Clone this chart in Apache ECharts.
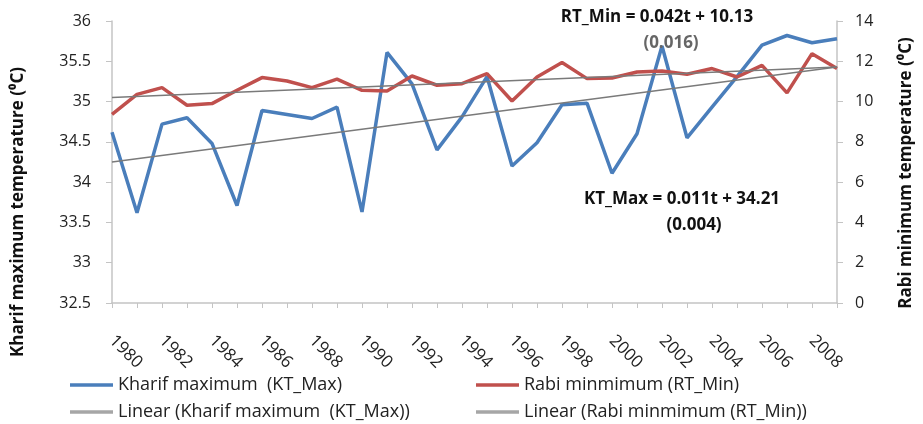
<!DOCTYPE html>
<html>
<head>
<meta charset="utf-8">
<script src="https://cdn.jsdelivr.net/npm/echarts@6/dist/echarts.min.js"></script>
<style>
  html, body { margin: 0; padding: 0; background: #fff; }
  #main { width: 923px; height: 424px; }
</style>
</head>
<body>
<div id="main"></div>
<script>
// years on the x axis
var years = ['1980', '1981', '1982', '1983', '1984', '1985', '1986', '1987', '1988', '1989',
             '1990', '1991', '1992', '1993', '1994', '1995', '1996', '1997', '1998', '1999',
             '2000', '2001', '2002', '2003', '2004', '2005', '2006', '2007', '2008', '2009'];
// Kharif maximum temperature (left axis)
var kharifMax = [34.62, 33.62, 34.72, 34.80, 34.48, 33.71, 34.89, 34.84, 34.79, 34.93,
                 33.63, 35.61, 35.22, 34.40, 34.81, 35.31, 34.20, 34.49, 34.96, 34.98,
                 34.11, 34.60, 35.69, 34.55, 34.93, 35.31, 35.70, 35.82, 35.73, 35.78];
// Rabi minimum temperature (right axis)
var rabiMin = [9.37, 10.36, 10.69, 9.82, 9.90, 10.56, 11.19, 11.02, 10.69, 11.11,
               10.56, 10.53, 11.27, 10.81, 10.89, 11.39, 10.03, 11.22, 11.94, 11.14,
               11.17, 11.47, 11.52, 11.36, 11.64, 11.22, 11.80, 10.43, 12.38, 11.64];
// linear trend end points (first year, last year)
var kharifTrend = [34.25, 35.43];
var rabiTrend = [10.2, 11.72];
// axis ticks
var leftTicks = [32.5, 36, 0.5];
var rightTicks = [0, 14, 2];

var FONT = '"Open Sans", "Noto Sans", sans-serif';

// trend line: only the two ends, joined
function trendData(ends) {
    var d = [];
    for (var i = 0; i < years.length; i++) d.push(null);
    d[0] = ends[0];
    d[years.length - 1] = ends[1];
    return d;
}

// one legend column (two rows)
function legendCol(left, names) {
    return {
        left: left, top: 376, orient: 'vertical', padding: 0, itemGap: 9,
        itemWidth: 43, itemHeight: 3.5, icon: 'rect',
        textStyle: { fontFamily: FONT, fontSize: 18, lineHeight: 18, color: '#222' },
        data: [
            { name: names[0] },
            { name: names[1], itemStyle: { color: '#a6a6a6' }, lineStyle: { width: 3, color: '#a6a6a6' } }
        ]
    };
}

var myChart = echarts.init(document.getElementById('main'));

var option = {
    animation: false,
    backgroundColor: '#fff',
    grid: { left: 112, right: 86, top: 21, bottom: 121, containLabel: false },
    legend: [
        legendCol(70, ['Kharif maximum  (KT_Max)', 'Linear (Kharif maximum  (KT_Max))']),
        legendCol(476, ['Rabi minmimum (RT_Min)', 'Linear (Rabi minmimum (RT_Min))'])
    ],
    xAxis: {
        type: 'category',
        data: years,
        boundaryGap: false,
        axisLine: { lineStyle: { color: '#c4c4c4', width: 1.5 } },
        axisTick: { show: true, interval: 0, length: 5, lineStyle: { color: '#c4c4c4' } },
        axisLabel: {
            interval: 1, rotate: -45, margin: 35,
            fontFamily: FONT, fontSize: 17, color: '#222'
        },
        splitLine: { show: false }
    },
    yAxis: [
        {
            type: 'value',
            min: leftTicks[0], max: leftTicks[1], interval: leftTicks[2],
            axisLine: { show: true, lineStyle: { color: '#c4c4c4', width: 1.5 } },
            axisTick: { show: true, length: 6, lineStyle: { color: '#c4c4c4' } },
            axisLabel: { margin: 21, fontFamily: FONT, fontSize: 16, color: '#222' },
            splitLine: { show: false }
        },
        {
            type: 'value',
            position: 'right',
            min: rightTicks[0], max: rightTicks[1], interval: rightTicks[2],
            axisLine: { show: true, lineStyle: { color: '#c4c4c4', width: 1.5 } },
            axisTick: { show: true, length: 6, lineStyle: { color: '#c4c4c4' } },
            axisLabel: { margin: 18, fontFamily: FONT, fontSize: 16, color: '#222' },
            splitLine: { show: false }
        }
    ],
    series: [
        {
            name: 'Linear (Kharif maximum  (KT_Max))',
            type: 'line', yAxisIndex: 0,
            data: trendData(kharifTrend), connectNulls: true,
            symbol: 'none', color: '#7a7a7a',
            lineStyle: { width: 1.5, color: '#7a7a7a' }, z: 3
        },
        {
            name: 'Linear (Rabi minmimum (RT_Min))',
            type: 'line', yAxisIndex: 1,
            data: trendData(rabiTrend), connectNulls: true,
            symbol: 'none', color: '#7a7a7a',
            lineStyle: { width: 1.5, color: '#7a7a7a' }, z: 3
        },
        {
            name: 'Kharif maximum  (KT_Max)',
            type: 'line', yAxisIndex: 0,
            data: kharifMax,
            symbol: 'none', color: '#4a7ebb',
            lineStyle: { width: 3.5, color: '#4a7ebb' }, z: 2
        },
        {
            name: 'Rabi minmimum (RT_Min)',
            type: 'line', yAxisIndex: 1,
            data: rabiMin,
            symbol: 'none', color: '#c0504d',
            lineStyle: { width: 3.5, color: '#c0504d' }, z: 2
        }
    ],
    // axis titles and trend equations
    graphic: [
        {
            type: 'text', x: 18, y: 212, rotation: Math.PI / 2,
            style: { text: 'Kharif maximum temperature (\u2070C)', font: 'bold 17px ' + FONT,
                     fill: '#111', textAlign: 'center', textVerticalAlign: 'middle' }
        },
        {
            type: 'text', x: 906, y: 173, rotation: Math.PI / 2,
            style: { text: 'Rabi minimum temperature (\u2070C)', font: 'bold 17px ' + FONT,
                     fill: '#111', textAlign: 'center', textVerticalAlign: 'middle' }
        },
        {
            type: 'text', x: 657, y: 17, z: 10,
            style: { text: 'RT_Min = 0.042t + 10.13', font: 'bold 17px ' + FONT,
                     fill: '#111', textAlign: 'center', textVerticalAlign: 'middle' }
        },
        {
            type: 'text', x: 671, y: 43, z: 10,
            style: { text: '(0.016)', font: 'bold 17px ' + FONT,
                     fill: '#666', textAlign: 'center', textVerticalAlign: 'middle' }
        },
        {
            type: 'text', x: 682, y: 199, z: 10,
            style: { text: 'KT_Max = 0.011t + 34.21', font: 'bold 17px ' + FONT,
                     fill: '#111', textAlign: 'center', textVerticalAlign: 'middle' }
        },
        {
            type: 'text', x: 694, y: 225, z: 10,
            style: { text: '(0.004)', font: 'bold 17px ' + FONT,
                     fill: '#111', textAlign: 'center', textVerticalAlign: 'middle' }
        }
    ]
};

myChart.setOption(option);
window.addEventListener('resize', function () {
    myChart.resize();
});
</script>
</body>
</html>
